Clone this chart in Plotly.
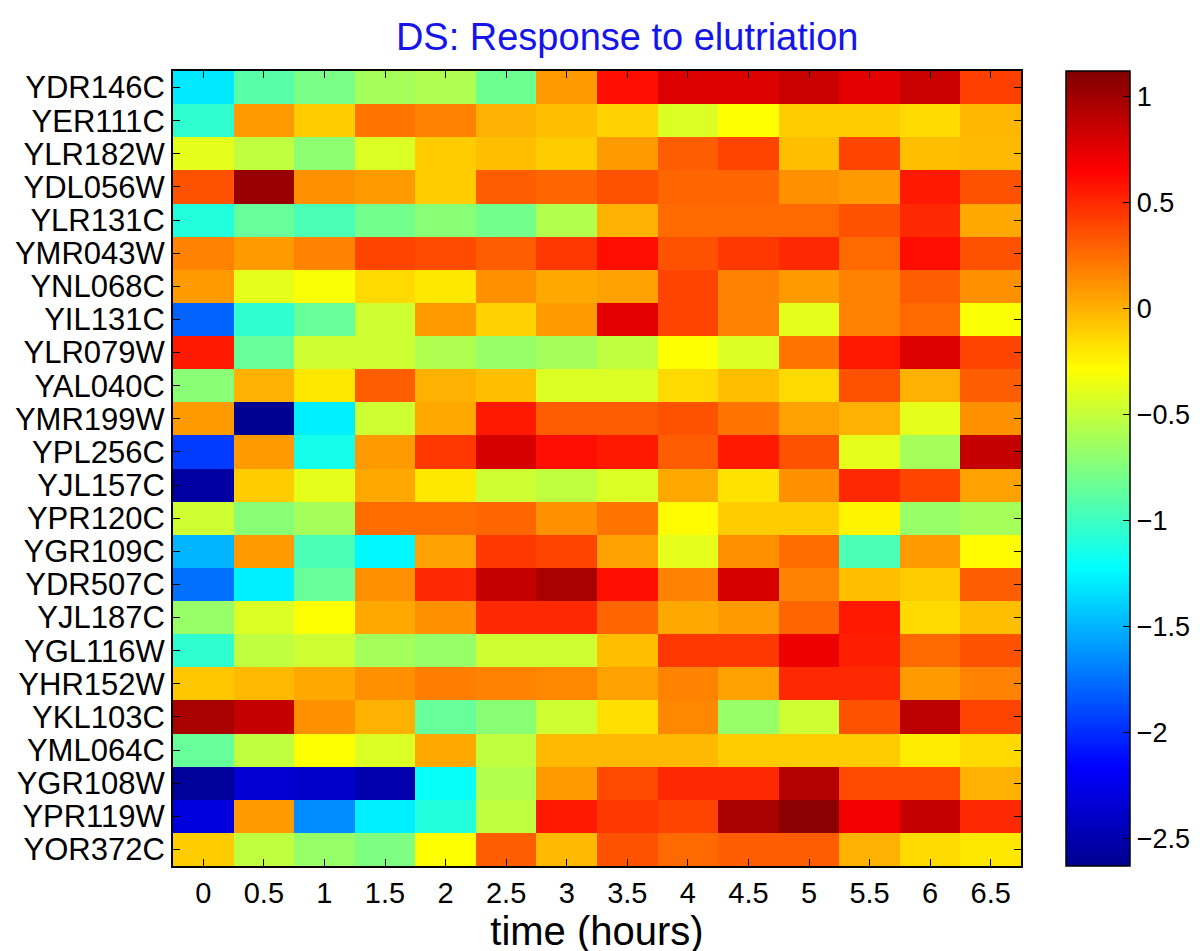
import plotly.graph_objects as go

# gene rows (top to bottom) and time points (hours)
genes = ["YDR146C", "YER111C", "YLR182W", "YDL056W", "YLR131C", "YMR043W",
         "YNL068C", "YIL131C", "YLR079W", "YAL040C", "YMR199W", "YPL256C",
         "YJL157C", "YPR120C", "YGR109C", "YDR507C", "YJL187C", "YGL116W",
         "YHR152W", "YKL103C", "YML064C", "YGR108W", "YPR119W", "YOR372C"]
hours = ["0", "0.5", "1", "1.5", "2", "2.5", "3", "3.5", "4", "4.5", "5", "5.5", "6", "6.5"]

# log-ratio values, one list per gene
YDR146C = [-1.30, -0.90, -0.78, -0.62, -0.58, -0.82, 0.08, 0.60, 0.78, 0.78, 0.85, 0.75, 0.85, 0.42]
YER111C = [-1.05, 0.08, -0.10, 0.22, 0.17, 0.00, -0.05, -0.12, -0.42, -0.29, -0.10, -0.10, -0.15, -0.02]
YLR182W = [-0.38, -0.52, -0.70, -0.42, -0.10, -0.05, -0.10, 0.08, 0.31, 0.40, -0.05, 0.40, -0.05, -0.03]
YDL056W = [0.35, 1.03, 0.12, 0.08, -0.10, 0.31, 0.28, 0.35, 0.28, 0.28, 0.12, 0.08, 0.56, 0.35]
YLR131C = [-1.10, -0.85, -0.95, -0.80, -0.72, -0.80, -0.57, 0.00, 0.26, 0.26, 0.26, 0.35, 0.50, 0.03]
YMR043W = [0.17, 0.08, 0.17, 0.40, 0.38, 0.31, 0.45, 0.60, 0.35, 0.45, 0.50, 0.26, 0.60, 0.35]
YNL068C = [0.08, -0.38, -0.30, -0.15, -0.20, 0.12, 0.03, 0.06, 0.40, 0.17, 0.08, 0.17, 0.31, 0.12]
YIL131C = [-1.80, -1.05, -0.85, -0.47, 0.08, -0.12, 0.08, 0.75, 0.40, 0.17, -0.38, 0.17, 0.26, -0.30]
YLR079W = [0.56, -0.85, -0.47, -0.47, -0.58, -0.67, -0.62, -0.52, -0.29, -0.42, 0.22, 0.56, 0.78, 0.40]
YAL040C = [-0.72, 0.00, -0.20, 0.31, 0.00, -0.05, -0.42, -0.42, -0.15, -0.05, -0.15, 0.35, 0.00, 0.31]
YMR199W = [0.08, -2.62, -1.28, -0.47, 0.03, 0.56, 0.31, 0.31, 0.35, 0.22, 0.06, 0.00, -0.38, 0.12]
YPL256C = [-1.95, 0.08, -1.15, 0.08, 0.45, 0.80, 0.60, 0.56, 0.31, 0.56, 0.35, -0.38, -0.62, 0.87]
YJL157C = [-2.55, -0.10, -0.38, 0.03, -0.20, -0.47, -0.52, -0.42, 0.03, -0.18, 0.12, 0.50, 0.40, 0.06]
YPR120C = [-0.47, -0.72, -0.62, 0.25, 0.25, 0.28, 0.12, 0.22, -0.27, -0.10, -0.10, -0.25, -0.67, -0.62]
YGR109C = [-1.50, 0.08, -0.95, -1.25, 0.06, 0.45, 0.40, 0.06, -0.38, 0.12, 0.25, -0.95, 0.08, -0.27]
YDR507C = [-1.75, -1.28, -0.85, 0.12, 0.50, 0.87, 0.97, 0.60, 0.17, 0.80, 0.17, -0.05, -0.10, 0.31]
YJL187C = [-0.67, -0.42, -0.29, 0.03, 0.12, 0.50, 0.50, 0.28, 0.03, 0.08, 0.28, 0.56, -0.15, -0.05]
YGL116W = [-1.05, -0.52, -0.47, -0.62, -0.67, -0.47, -0.47, -0.05, 0.45, 0.45, 0.72, 0.54, 0.26, 0.35]
YHR152W = [-0.08, -0.03, 0.03, 0.12, 0.19, 0.17, 0.15, 0.06, 0.17, 0.06, 0.50, 0.50, 0.08, 0.17]
YKL103C = [0.97, 0.87, 0.12, 0.00, -0.85, -0.72, -0.47, -0.17, 0.15, -0.67, -0.47, 0.35, 0.90, 0.40]
YML064C = [-0.85, -0.52, -0.29, -0.42, 0.03, -0.52, -0.03, -0.03, -0.03, -0.10, -0.10, -0.10, -0.22, -0.15]
YGR108W = [-2.58, -2.35, -2.38, -2.50, -1.20, -0.57, 0.08, 0.38, 0.50, 0.50, 0.93, 0.38, 0.38, 0.00]
YPR119W = [-2.30, 0.08, -1.65, -1.28, -1.10, -0.52, 0.56, 0.45, 0.40, 0.97, 1.08, 0.70, 0.87, 0.50]
YOR372C = [-0.10, -0.52, -0.67, -0.76, -0.29, 0.31, -0.03, 0.35, 0.26, 0.31, 0.31, 0.00, -0.15, -0.20]

z = [YDR146C, YER111C, YLR182W, YDL056W, YLR131C, YMR043W, YNL068C, YIL131C,
     YLR079W, YAL040C, YMR199W, YPL256C, YJL157C, YPR120C, YGR109C, YDR507C,
     YJL187C, YGL116W, YHR152W, YKL103C, YML064C, YGR108W, YPR119W, YOR372C]

# colorbar ticks
cb_ticks = [1, 0.5, 0, -0.5, -1, -1.5, -2, -2.5]
cb_labels = ["1", "0.5", "0", "\u22120.5", "\u22121", "\u22121.5", "\u22122", "\u22122.5"]

# MATLAB-style jet
jet = [[0.0, "rgb(0,0,143)"], [0.125, "rgb(0,0,255)"], [0.375, "rgb(0,255,255)"],
       [0.625, "rgb(255,255,0)"], [0.875, "rgb(255,0,0)"], [1.0, "rgb(128,0,0)"]]

sans = "Liberation Sans, Arial, Helvetica, sans-serif"

fig = go.Figure(go.Heatmap(
    z=z, x=hours, y=genes,
    colorscale=jet, zmin=-2.63, zmax=1.12,
    colorbar=dict(
        x=1.053, xanchor="left", xpad=0, ypad=0,
        y=0.5, len=1.0, lenmode="fraction",
        thickness=64, thicknessmode="pixels",
        outlinecolor="black", outlinewidth=1.5,
        tickvals=cb_ticks, ticktext=cb_labels,
        ticks="inside", ticklen=7, tickcolor="black",
        tickfont=dict(family=sans, size=27, color="black"),
    ),
    hovertemplate="%{y} @ %{x} h: %{z:.2f}<extra></extra>",
))

fig.update_layout(
    width=1200, height=951,
    margin=dict(l=165, r=187, t=63, b=93, autoexpand=False),
    paper_bgcolor="white", plot_bgcolor="white",
    title=dict(text="DS: Response to elutriation", x=0.516, xanchor="center",
               y=0.9695, yanchor="middle",
               font=dict(family=sans, size=38, color="rgb(20,20,235)")),
)

fig.update_xaxes(
    type="category", tickmode="array", tickvals=hours, ticktext=hours,
    showline=True, linecolor="black", linewidth=2, mirror="ticks",
    ticks="inside", ticklen=7, tickcolor="black",
    tickfont=dict(family=sans, size=29, color="black"),
    title=dict(text="time (hours)", font=dict(family=sans, size=40, color="black"), standoff=2),
)
fig.update_yaxes(
    type="category", tickmode="array", tickvals=genes, ticktext=genes,
    autorange="reversed",
    showline=True, linecolor="black", linewidth=2, mirror="ticks",
    ticks="inside", ticklen=7, tickcolor="black",
    tickfont=dict(family=sans, size=31, color="black"),
)

fig.write_html("out.html")
